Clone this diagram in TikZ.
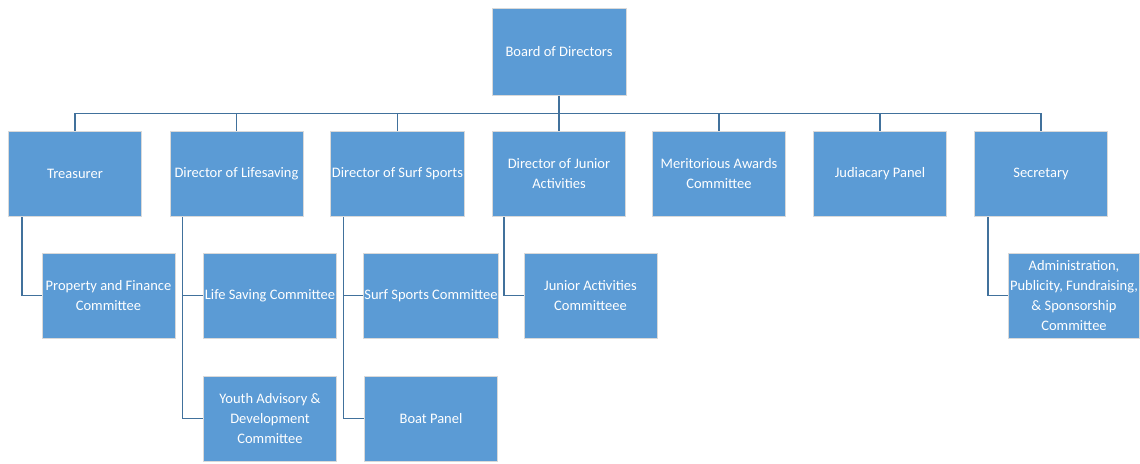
\documentclass[tikz,border=0pt]{standalone}
\usepackage{fontspec}
\setmainfont{Carlito}
\definecolor{boxblue}{HTML}{5B9BD5}
\definecolor{lineblue}{HTML}{41719C}
\definecolor{rimgrey}{HTML}{D9D9D9}
\begin{document}
\begin{tikzpicture}[x=1pt,y=-1pt]
\tikzstyle{every node}+=[inner sep=1pt]
\tikzstyle{unit}=[draw=rimgrey, line width=1pt, fill=boxblue, text=white, align=center, minimum width=133pt, minimum height=85pt, font=\fontsize{14.5}{20}\selectfont]
\tikzstyle{link}=[draw=lineblue, line width=1.6pt]
\useasboundingbox (0,0) rectangle (1140,463);
\node [unit, minimum width=134pt, minimum height=87pt] (board) at (559,51.5) {Board of Directors};
\node [unit] (trea) at (75,174) {Treasurer};
\node [unit] (life) at (236.5,174) {Director of Lifesaving};
\node [unit] (surf) at (397.5,174) {Director of Surf Sports};
\node [unit] (jun) at (559,174) {Director of Junior\\Activities};
\node [unit] (merit) at (719,174) {Meritorious Awards\\Committee};
\node [unit] (jud) at (880,174) {Judiacary Panel};
\node [unit] (sec) at (1041,174) {Secretary};
\node [unit] (prop) at (108.5,295.5) {Property and Finance\\Committee};
\node [unit] (lsc) at (270,295.5) {Life Saving Committee};
\node [unit] (ssc) at (431,295.5) {Surf Sports Committee};
\node [unit] (jac) at (590.5,295.5) {Junior Activities\\Committeee};
\node [unit, minimum width=131pt] (admin) at (1074,295.5) {Administration,\\Publicity, Fundraising,\\\& Sponsorship\\Committee};
\node [unit] (youth) at (270,418.5) {Youth Advisory \&\\Development\\Committee};
\node [unit] (boat) at (431,418.5) {Boat Panel};
\draw [link] (board.south) -- ++(0,18) coordinate (bus);
\foreach \d in {trea,life,surf,jun,merit,jud,sec}
  \draw [link] (bus) -| (\d.north);
\draw [link] ([xshift=14pt]trea.south west) |- (prop.west);
\draw [link] ([xshift=13pt]life.south west) |- (lsc.west);
\draw [link] ([xshift=13pt]life.south west) |- (youth.west);
\draw [link] ([xshift=13pt]surf.south west) |- (ssc.west);
\draw [link] ([xshift=13pt]surf.south west) |- (boat.west);
\draw [link] ([xshift=12pt]jun.south west) |- (jac.west);
\draw [link] ([xshift=14pt]sec.south west) |- (admin.west);
\end{tikzpicture}
\end{document}
